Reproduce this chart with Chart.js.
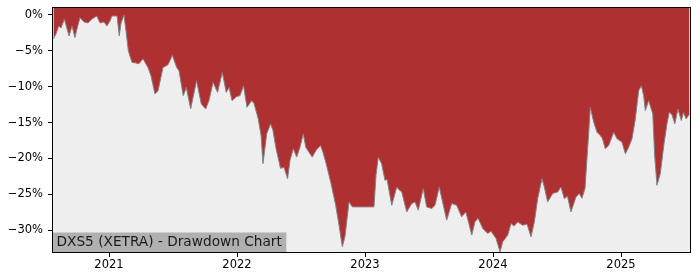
<!DOCTYPE html>
<html>
<head>
<meta charset="utf-8">
<script src="https://cdn.jsdelivr.net/npm/chart.js@4/dist/chart.umd.min.js"></script>
<style>
  html, body { margin: 0; padding: 0; background: #ffffff; }
  #wrap { width: 700px; height: 280px; }
</style>
</head>
<body>
<div id="wrap"><canvas id="c" width="700" height="280"></canvas></div>
<script>
// ---- Data ----
const chartTitle = 'DXS5 (XETRA) - Drawdown Chart';

// time as decimal years
const timeYears = [
  2020.566, 2020.586, 2020.607, 2020.625, 2020.651, 2020.664, 2020.688, 2020.711, 2020.734, 2020.750,
  2020.773, 2020.805, 2020.836, 2020.867, 2020.904, 2020.930, 2020.961, 2020.984, 2021.008, 2021.023,
  2021.063, 2021.080, 2021.094, 2021.117, 2021.133, 2021.151, 2021.180, 2021.203, 2021.234, 2021.266,
  2021.305, 2021.328, 2021.359, 2021.383, 2021.422, 2021.461, 2021.495, 2021.529, 2021.547, 2021.580,
  2021.604, 2021.638, 2021.684, 2021.721, 2021.755, 2021.781, 2021.813, 2021.848, 2021.885, 2021.916,
  2021.938, 2021.961, 2021.996, 2022.023, 2022.051, 2022.078, 2022.115, 2022.133, 2022.166, 2022.188,
  2022.203, 2022.232, 2022.262, 2022.281, 2022.305, 2022.340, 2022.367, 2022.395, 2022.414, 2022.440,
  2022.466, 2022.492, 2022.518, 2022.537, 2022.563, 2022.588, 2022.617, 2022.652, 2022.672, 2022.693,
  2022.732, 2022.771, 2022.797, 2022.823, 2022.844, 2022.875, 2022.901, 2023.070, 2023.086, 2023.104,
  2023.130, 2023.156, 2023.172, 2023.209, 2023.248, 2023.262, 2023.287, 2023.326, 2023.365, 2023.391,
  2023.416, 2023.455, 2023.482, 2023.521, 2023.547, 2023.580, 2023.612, 2023.638, 2023.677, 2023.716,
  2023.755, 2023.787, 2023.809, 2023.834, 2023.859, 2023.883, 2023.920, 2023.959, 2023.984, 2024.023,
  2024.055, 2024.076, 2024.115, 2024.141, 2024.164, 2024.193, 2024.232, 2024.266, 2024.297, 2024.323,
  2024.349, 2024.383, 2024.401, 2024.427, 2024.466, 2024.505, 2024.531, 2024.557, 2024.582, 2024.609,
  2024.648, 2024.674, 2024.695, 2024.719, 2024.734, 2024.748, 2024.760, 2024.787, 2024.813, 2024.838,
  2024.855, 2024.877, 2024.904, 2024.943, 2024.969, 2025.008, 2025.034, 2025.060, 2025.086, 2025.112,
  2025.138, 2025.159, 2025.177, 2025.190, 2025.216, 2025.248, 2025.263, 2025.281, 2025.307, 2025.334,
  2025.359, 2025.377, 2025.398, 2025.420, 2025.445, 2025.471, 2025.488, 2025.509, 2025.535
];

// drawdown in percent
const drawdown = [
  -3.33, -2.64, -1.53, -1.81, -0.60, -1.39, -2.92, -1.53, -3.15, -1.94,
  -0.38, -0.97, -1.11, -0.56, -0.14, -1.11, -0.97, -1.53, -0.83, -0.14,
  -0.14, -2.92, -1.11, 0.00, -2.22, -5.00, -6.63, -6.67, -6.81, -6.11,
  -7.36, -8.47, -11.01, -10.56, -7.32, -6.94, -5.63, -7.32, -7.78, -11.25,
  -10.10, -13.10, -9.17, -12.40, -13.10, -11.94, -9.40, -10.79, -8.01, -10.79,
  -10.10, -11.94, -11.39, -11.25, -9.86, -12.88, -11.94, -12.36, -14.49, -16.81,
  -20.74, -16.57, -15.18, -16.11, -18.61, -21.39, -21.25, -22.82, -20.28, -18.65,
  -19.82, -18.43, -16.57, -18.43, -19.17, -19.82, -18.89, -18.19, -19.17, -20.51,
  -23.29, -26.53, -29.31, -32.32, -30.83, -26.07, -26.76, -26.76, -22.36, -19.82,
  -20.74, -23.06, -22.92, -26.53, -23.99, -24.31, -24.68, -27.46, -26.29, -26.07,
  -27.22, -24.21, -26.76, -26.99, -26.53, -23.99, -26.53, -28.61, -26.29, -26.53,
  -28.15, -27.46, -28.89, -30.69, -28.85, -28.33, -29.76, -30.46, -30.14, -31.15,
  -33.01, -31.63, -30.69, -29.07, -29.44, -28.85, -29.31, -29.17, -30.93, -28.85,
  -25.60, -22.82, -23.99, -26.07, -24.90, -24.68, -23.99, -25.60, -25.28, -27.46,
  -25.38, -24.90, -25.56, -24.17, -20.04, -16.35, -12.88, -14.96, -16.35, -16.81,
  -17.22, -18.65, -18.19, -16.35, -17.26, -17.74, -19.35, -18.43, -17.26, -14.49,
  -10.56, -9.86, -11.25, -13.33, -11.94, -13.79, -19.58, -23.75, -22.13, -18.19,
  -15.18, -13.57, -13.89, -15.18, -13.10, -14.72, -13.61, -14.49, -13.79
];

const yearTicks = [2021, 2022, 2023, 2024, 2025];
const pctTicks = [-30, -25, -20, -15, -10, -5, 0];

// ---- Chart ----
const points = timeYears.map((t, i) => ({ x: t, y: drawdown[i] }));

const bgPlugin = {
  id: 'axesBg',
  beforeDatasetsDraw(chart) {
    const { ctx, chartArea: a } = chart;
    ctx.save();
    ctx.fillStyle = '#eeeeee';
    ctx.fillRect(a.left, a.top, a.right - a.left, a.bottom - a.top);
    ctx.restore();
  },
  afterDraw(chart) {
    const { ctx, chartArea: a } = chart;
    ctx.save();
    // title box
    ctx.font = '13.7px "DejaVu Sans"';
    const w = ctx.measureText(chartTitle).width;
    ctx.fillStyle = '#b0b0b0';
    ctx.fillRect(a.left, a.bottom - 19.5, w + 8, 19.5);
    ctx.fillStyle = '#1a1a1a';
    ctx.textBaseline = 'middle';
    ctx.textAlign = 'left';
    ctx.fillText(chartTitle, a.left + 3.5, a.bottom - 9.5);
    // frame
    ctx.strokeStyle = '#000000';
    ctx.lineWidth = 1;
    ctx.strokeRect(a.left - 0.5, a.top - 0.5, a.right - a.left + 1, a.bottom - a.top + 1);
    ctx.restore();
  }
};

new Chart(document.getElementById('c'), {
  type: 'line',
  data: {
    datasets: [{
      data: points,
      borderColor: '#7d8588',
      borderWidth: 1,
      backgroundColor: '#af3030',
      fill: 'end',
      pointRadius: 0,
      tension: 0
    }]
  },
  options: {
    responsive: false,
    animation: false,
    devicePixelRatio: 1,
    layout: { padding: { top: 8, right: 10, left: 0, bottom: 0 } },
    plugins: { legend: { display: false }, tooltip: { enabled: false } },
    scales: {
      x: {
        type: 'linear',
        min: 2020.5625,
        max: 2025.539,
        afterBuildTicks(scale) { scale.ticks = yearTicks.map(v => ({ value: v })); },
        afterFit(scale) { scale.height = 28; scale.paddingLeft = 0; scale.paddingRight = 0; },
        ticks: {
          autoSkip: false,
          maxRotation: 0,
          padding: 1,
          color: '#000000',
          font: { family: 'DejaVu Sans', size: 11.5 },
          callback: v => String(v)
        },
        grid: { display: true, drawOnChartArea: false, tickLength: 5, tickColor: '#000000' },
        border: { display: true, color: '#000000', width: 1 }
      },
      y: {
        type: 'linear',
        min: -33.05,
        max: 0.97,
        afterBuildTicks(scale) { scale.ticks = pctTicks.map(v => ({ value: v })); },
        afterFit(scale) { scale.width = 53; scale.paddingTop = 0; scale.paddingBottom = 0; },
        ticks: {
          autoSkip: false,
          padding: 5,
          color: '#000000',
          font: { family: 'DejaVu Sans', size: 11.5 },
          callback: v => (v < 0 ? '\u2212' : '') + Math.abs(v) + '%'
        },
        grid: { display: true, drawOnChartArea: false, tickLength: 5, tickColor: '#000000' },
        border: { display: true, color: '#000000', width: 1 }
      }
    }
  },
  plugins: [bgPlugin]
});
</script>
</body>
</html>
